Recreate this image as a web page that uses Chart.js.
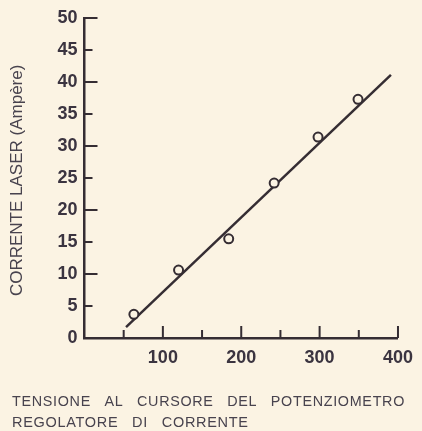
<!DOCTYPE html>
<html>
<head>
<meta charset="utf-8">
<script src="https://cdn.jsdelivr.net/npm/chart.js@4"></script>
<style>
  html, body { margin: 0; padding: 0; background: #fbf3e3; }
  canvas { display: block; background: #fbf3e3; }
</style>
</head>
<body>
<canvas id="c" width="422" height="431"></canvas>
<script>
// ---- data ----
const measuredX = [63, 120, 184, 242, 298, 349];
const measuredY = [3.7, 10.6, 15.5, 24.2, 31.4, 37.3];
const fitLineX = [53, 391];
const fitLineY = [1.7, 41.1];
const yTickValues = [0, 5, 10, 15, 20, 25, 30, 35, 40, 45, 50];
const yMajorMarks = [10, 20, 30, 40, 50];
const yMinorMarks = [5, 15, 25, 35, 45];
const xLabelValues = [100, 200, 300, 400];
const xMajorMarks = [100, 200, 300, 400];
const xMinorMarks = [50, 150, 250, 350];
const yAxisTitle = 'CORRENTE LASER (Ampère) ';
const bottomTitle = ['TENSIONE AL CURSORE DEL POTENZIOMETRO', 'REGOLATORE DI CORRENTE'];

const ink = '#352d33';
const labelInk = '#3b3440';
const titleInk = '#48434e';
const bg = '#fbf3e3';
const fam = "'Liberation Sans', Arial, Helvetica, sans-serif";

const tickMarks = {
  id: 'tickMarks',
  afterDatasetsDraw(chart) {
    const { ctx, scales: { x, y } } = chart;
    ctx.save();
    ctx.strokeStyle = ink;
    ctx.lineWidth = 2;
    ctx.beginPath();
    const x0 = x.getPixelForValue(0);
    const y0 = y.getPixelForValue(0);
    yMajorMarks.forEach(v => { const p = y.getPixelForValue(v); ctx.moveTo(x0, p); ctx.lineTo(x0 + 13, p); });
    yMinorMarks.forEach(v => { const p = y.getPixelForValue(v); ctx.moveTo(x0, p); ctx.lineTo(x0 + 8, p); });
    xMajorMarks.forEach(v => { const p = x.getPixelForValue(v); ctx.moveTo(p, y0); ctx.lineTo(p, y0 - 12); });
    xMinorMarks.forEach(v => { const p = x.getPixelForValue(v); ctx.moveTo(p, y0); ctx.lineTo(p, y0 - 8); });
    ctx.stroke();
    ctx.restore();
  }
};

const chart = new Chart(document.getElementById('c'), {
  type: 'scatter',
  data: {
    datasets: [
      {
        label: 'misure',
        data: measuredX.map((v, i) => ({ x: v, y: measuredY[i] })),
        pointStyle: 'circle',
        pointRadius: 4.5,
        pointBorderWidth: 2,
        borderColor: ink,
        backgroundColor: bg,
        order: 0
      },
      {
        label: 'retta',
        type: 'line',
        data: fitLineX.map((v, i) => ({ x: v, y: fitLineY[i] })),
        showLine: true,
        borderColor: ink,
        borderWidth: 2.5,
        pointRadius: 0,
        fill: false,
        order: 1
      }
    ]
  },
  options: {
    responsive: false,
    animation: false,
    events: [],
    layout: { padding: { left: 12, right: 17, top: 18, bottom: -3 } },
    plugins: {
      legend: { display: false },
      tooltip: { enabled: false },
      title: {
        display: true,
        position: 'bottom',
        align: 'start',
        text: bottomTitle,
        color: titleInk,
        font: { family: fam, size: 14.5, weight: 'normal', lineHeight: 1.45 },
        padding: { top: 0, bottom: 0 }
      }
    },
    scales: {
      x: {
        type: 'linear',
        min: 0,
        max: 400,
        grid: { display: false, drawTicks: false },
        border: { display: true, color: ink, width: 2.5 },
        afterBuildTicks: s => { s.ticks = xLabelValues.map(v => ({ value: v })); },
        afterFit: s => { s.height = 54; },
        ticks: {
          color: labelInk,
          padding: 9,
          maxRotation: 0,
          font: { family: fam, size: 18, weight: 'bold' }
        }
      },
      y: {
        type: 'linear',
        min: 0,
        max: 50,
        grid: { display: false, drawTicks: false },
        border: { display: true, color: ink, width: 2.5 },
        afterBuildTicks: s => { s.ticks = yTickValues.map(v => ({ value: v })); },
        afterFit: s => { s.width = 72.5; },
        ticks: {
          color: labelInk,
          padding: 7,
          font: { family: fam, size: 18, weight: 'bold' }
        },
        title: {
          display: true,
          text: yAxisTitle,
          color: titleInk,
          font: { family: fam, size: 17, weight: 'normal', lineHeight: 1.2 },
          padding: { top: -5, bottom: 0 }
        }
      }
    }
  },
  plugins: [tickMarks]
});

// widen the letter/word spacing of the bottom caption like the printed original
if (chart.titleBlock) {
  const tb = chart.titleBlock;
  const orig = tb.draw;
  tb.draw = function () {
    const c = this.ctx;
    c.save();
    try { c.letterSpacing = '0.7px'; c.wordSpacing = '9px'; } catch (e) {}
    orig.apply(this, arguments);
    c.restore();
  };
  chart.draw();
}
</script>
</body>
</html>
